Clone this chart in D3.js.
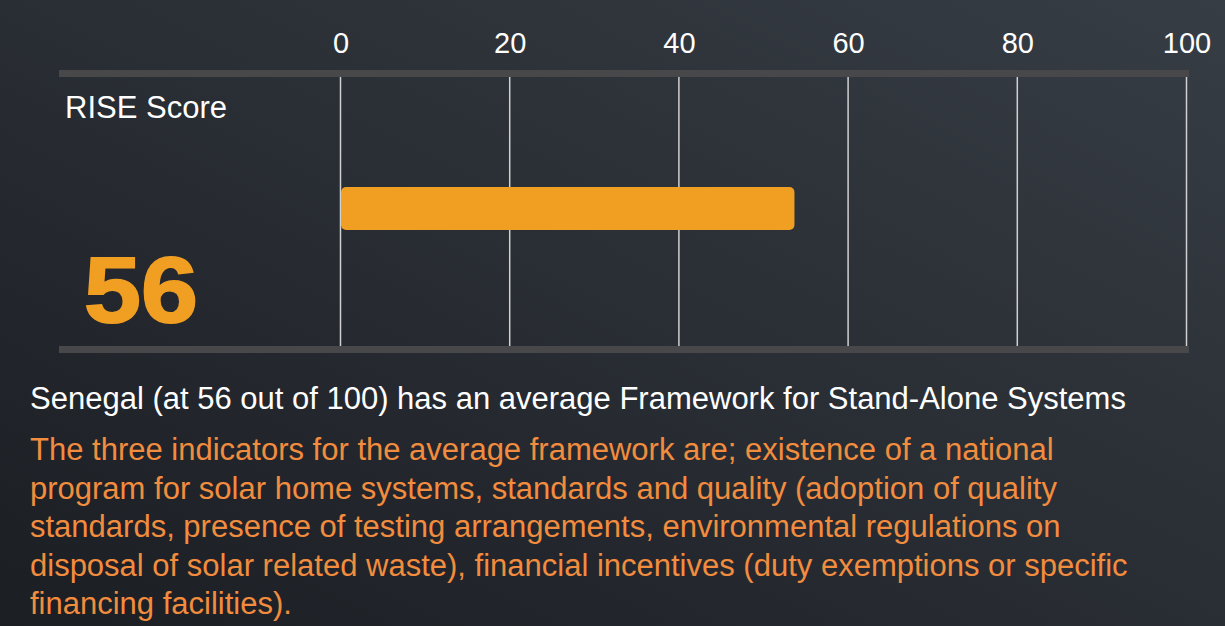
<!DOCTYPE html>
<html>
  <head>
    <meta charset="utf-8">
    <title>RISE Score - Senegal</title>
    <script src="https://d3js.org/d3.v7.min.js"></script>
    <style>
      body { margin: 0; overflow: hidden; }
      svg { display: block; font-family: "Liberation Sans", Arial, sans-serif; }
    </style>
  </head>
  <body>
    <div id="chart"></div>
    <script>
      // data
      const country = "Senegal";
      const score = 56;
      const barValue = 53.6;
      const tickValues = [0, 20, 40, 60, 80, 100];
      const headline = ["Senegal (at 56 out of 100) has an average Framework for Stand-Alone Systems"];
      const notes = [
        "The three indicators for the average framework are; existence of a national",
        "program for solar home systems, standards and quality (adoption of quality",
        "standards, presence of testing arrangements, environmental regulations on",
        "disposal of solar related waste), financial incentives (duty exemptions or specific",
        "financing facilities)."
      ];

      const width = 1225, height = 626;
      const orange = "#f09f22";

      const svg = d3.select("#chart").append("svg")
        .attr("width", width)
        .attr("height", height);

      // background gradient
      const grad = svg.append("defs").append("linearGradient")
        .attr("id", "bg")
        .attr("x1", "0%").attr("y1", "100%")
        .attr("x2", "100%").attr("y2", "0%");
      grad.append("stop").attr("offset", "0%").attr("stop-color", "#1b1e23");
      grad.append("stop").attr("offset", "100%").attr("stop-color", "#373d45");
      svg.append("rect")
        .attr("width", width)
        .attr("height", height)
        .attr("fill", "url(#bg)");

      // scales
      const x = d3.scaleLinear().domain([0, 100]).range([340.5, 1186.5]);
      const gridTop = 77, gridBottom = 346;

      // grid lines
      svg.append("g")
        .selectAll("line")
        .data(tickValues)
        .join("line")
          .attr("x1", d => x(d))
          .attr("x2", d => x(d))
          .attr("y1", gridTop)
          .attr("y2", gridBottom)
          .attr("stroke", "#d0d0d0")
          .attr("stroke-width", 1.5);

      // top axis labels
      const axis = d3.axisTop(x).tickValues(tickValues).tickSize(0).tickPadding(0);
      const gAxis = svg.append("g")
        .attr("transform", "translate(0,53)")
        .call(axis);
      gAxis.select(".domain").remove();
      gAxis.selectAll("text")
        .attr("fill", "#ffffff")
        .attr("font-size", 29)
        .attr("font-family", "Liberation Sans, Arial, sans-serif")
        .attr("dy", 0);

      // thick rules
      svg.append("rect")
        .attr("x", 59).attr("y", 70)
        .attr("width", 1130).attr("height", 7)
        .attr("fill", "#48484a");
      svg.append("rect")
        .attr("x", 59).attr("y", 346)
        .attr("width", 1130).attr("height", 7)
        .attr("fill", "#48484a");

      // bar
      svg.append("rect")
        .datum(barValue)
        .attr("x", x(0) + 0.5)
        .attr("y", 187)
        .attr("width", d => x(d) - x(0))
        .attr("height", 43)
        .attr("rx", 5)
        .attr("fill", orange);

      // labels
      svg.append("text")
        .attr("x", 65).attr("y", 118)
        .attr("fill", "#ffffff")
        .attr("font-size", 31)
        .text("RISE Score");

      svg.append("text")
        .attr("transform", "translate(84,322) scale(1.1,1)")
        .attr("fill", orange)
        .attr("stroke", orange)
        .attr("stroke-width", 2)
        .attr("font-size", 93)
        .attr("font-weight", "bold")
        .text(score);

      svg.append("g")
        .selectAll("text")
        .data(headline)
        .join("text")
          .attr("x", 30)
          .attr("y", (d, i) => 409 + i * 38.5)
          .attr("fill", "#ffffff")
          .attr("font-size", 31)
          .text(d => d);

      svg.append("g")
        .selectAll("text")
        .data(notes)
        .join("text")
          .attr("x", 30)
          .attr("y", (d, i) => 460 + i * 38.5)
          .attr("fill", "#f28c3e")
          .attr("font-size", 31)
          .text(d => d);
    </script>
  </body>
</html>
